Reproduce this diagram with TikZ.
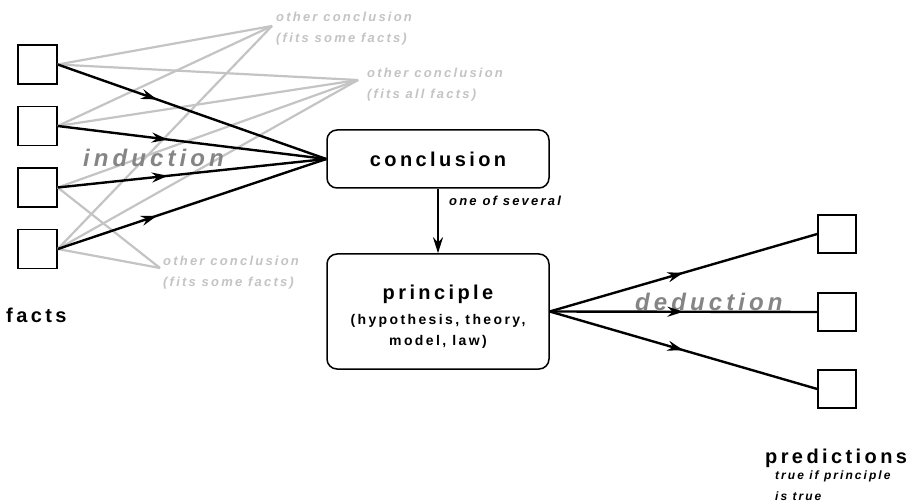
\documentclass[tikz,border=0pt]{standalone}
\usepackage{fontspec}
\setmainfont{Liberation Sans}
\newfontfamily\trackfont[LetterSpace=17]{Liberation Sans}
\usetikzlibrary{arrows.meta,decorations.markings}

\definecolor{faint}{HTML}{C4C4C4}
\definecolor{midgrey}{HTML}{858585}

\newcommand{\fsz}[2]{\fontsize{#1bp}{#2bp}\selectfont}

\tikzset{
  factbox/.style={draw, line width=1.5bp, minimum size=39bp, inner sep=0},
  roundbox/.style={draw, line width=1.5bp, rounded corners=10bp,
    minimum width=222bp, inner sep=0, align=center},
  infer/.style={line width=2.4bp, postaction=decorate,
    decoration={markings, mark=at position #1 with
      {\arrow{Stealth[length=16bp,width=10bp]}}}},
  alt/.style={draw=faint, line width=2.2bp},
  lbl/.style={inner sep=0, align=left, font=\trackfont\bfseries\itshape},
  grey label/.style={lbl, text=faint, font=\trackfont\bfseries\itshape\fsz{13}{21}},
  big label/.style={inner sep=0, font=\trackfont\bfseries\fsz{20}{24}},
  mode label/.style={lbl, text=midgrey, font=\trackfont\bfseries\itshape\fsz{24}{28}},
  note label/.style={lbl, font=\trackfont\bfseries\itshape\fsz{12}{21}},
}

\begin{document}
\begin{tikzpicture}[x=1bp, y=-1bp]
  \fill[white] (0,0) rectangle (912,504);
  \useasboundingbox (0,0) rectangle (912,504);

  % facts
  \node[factbox] (f1) at (37.5,64.5) {};
  \node[factbox] (f2) at (37.5,126) {};
  \node[factbox] (f3) at (37.5,187.5) {};
  \node[factbox] (f4) at (37.5,249) {};
  \node[big label, anchor=base west] (facts) at (6,323) {facts};

  % competing conclusions
  \coordinate (oc1) at (272,26);
  \coordinate (oc2) at (358,80);
  \coordinate (oc3) at (160,268);
  \node[grey label, anchor=west] (oc1t) at (276,29) {other conclusion\\(fits some facts)};
  \node[grey label, anchor=west] (oc2t) at (367,85) {other conclusion\\(fits all facts)};
  \node[grey label, anchor=west] (oc3t) at (163,273) {other conclusion\\(fits some facts)};

  \foreach \f in {f1,f2,f4} \draw[alt] (\f.east) -- (oc1);
  \foreach \f in {f1,f2,f3,f4} \draw[alt] (\f.east) -- (oc2);
  \foreach \f in {f3,f4} \draw[alt] (\f.east) -- (oc3);

  \node[mode label, anchor=west] (ind) at (83,158) {induction};

  % main boxes
  \node[roundbox, minimum height=58bp] (concl) at (438,159)
    {\trackfont\bfseries\fsz{20}{24}conclusion};
  \node[roundbox, minimum height=115bp] (princ) at (438,311.5)
    {\trackfont\bfseries\fsz{20}{23}\rule{0pt}{25bp}principle\\[9bp]
     \trackfont\bfseries\fsz{14}{21}(hypothesis, theory,\\[7bp]
     \trackfont\bfseries\fsz{14}{21}model, law)};

  \draw[infer=0.37] (f1.east) -- (concl.west);
  \draw[infer=0.41] (f2.east) -- (concl.west);
  \draw[infer=0.41] (f3.east) -- (concl.west);
  \draw[infer=0.37] (f4.east) -- (concl.west);

  \draw[line width=2.4bp, -{Stealth[length=16bp,width=10bp]}] (concl.south) -- (princ.north);
  \node[note label, font=\trackfont\bfseries\itshape\fsz{13}{21}, anchor=base west] (one) at (449,206) {one of several};

  % predictions
  \node[factbox, minimum size=38bp] (p1) at (837,234) {};
  \node[factbox, minimum size=38bp] (p2) at (837,312) {};
  \node[factbox, minimum size=38bp] (p3) at (837,389) {};

  \node[mode label, anchor=west] (ded) at (635,302) {deduction};

  \draw[infer=0.5] (princ.east) -- (p1.west);
  \draw[infer=0.5] (princ.east) -- (p2.west);
  \draw[infer=0.5] (princ.east) -- (p3.west);

  \node[big label, anchor=base west] (pred) at (765,463) {predictions};
  \node[note label, anchor=base west] (predn) at (775,479) {true if principle};
  \node[note label, anchor=base west] (predn2) at (775,500) {is true};
\end{tikzpicture}
\end{document}
